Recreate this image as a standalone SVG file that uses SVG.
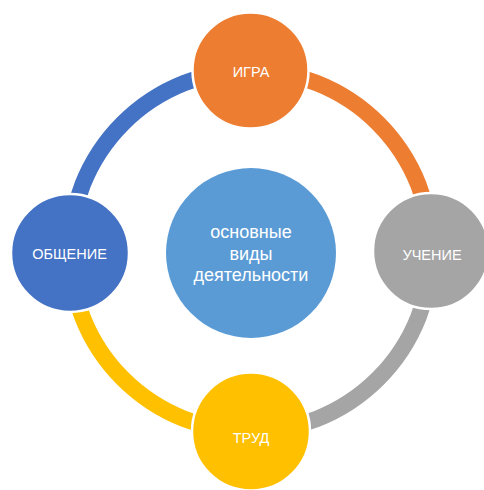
<svg xmlns="http://www.w3.org/2000/svg" width="484" height="490" viewBox="0 0 484 490">
<style>
.arc{fill:none;stroke-width:16.5;stroke-linecap:butt}
.node{stroke:#ffffff;stroke-width:2.5}
.lbl{font-family:"Liberation Sans",Arial,sans-serif;font-size:14.5px;fill:#ffffff;text-anchor:middle;dominant-baseline:central}
.ctr{font-family:"Liberation Sans",Arial,sans-serif;font-size:18px;fill:#ffffff;text-anchor:middle;dominant-baseline:central}
</style>
<rect width="484" height="490" fill="#ffffff"/>
<g id="connectors">
<path class="arc" stroke="#ED7D31" d="M 250.5 70.5 A 180.5 180.5 0 0 1 431 251"/>
<path class="arc" stroke="#A5A5A5" d="M 431 251 A 180.5 180.5 0 0 1 250.5 431.5"/>
<path class="arc" stroke="#FFC000" d="M 250.5 431.5 A 180.5 180.5 0 0 1 70 251"/>
<path class="arc" stroke="#4472C4" d="M 70 251 A 180.5 180.5 0 0 1 250.5 70.5"/>
</g>
<g id="center">
<circle cx="251" cy="253" r="85" fill="#5B9BD5"/>
<text class="ctr" x="251" y="232">основные</text>
<text class="ctr" x="251" y="253.5">виды</text>
<text class="ctr" x="251" y="275">деятельности</text>
</g>
<g id="igra">
<circle class="node" cx="250.5" cy="70.5" r="58" fill="#ED7D31"/>
<text class="lbl" x="251" y="72">ИГРА</text>
</g>
<g id="uchenie">
<circle class="node" cx="431" cy="251" r="58" fill="#A5A5A5"/>
<text class="lbl" x="432" y="255">УЧЕНИЕ</text>
</g>
<g id="trud">
<circle class="node" cx="251" cy="431.5" r="59" fill="#FFC000"/>
<text class="lbl" x="251" y="437.5">ТРУД</text>
</g>
<g id="obshchenie">
<circle class="node" cx="70" cy="253" r="59" fill="#4472C4"/>
<text class="lbl" x="69.5" y="254">ОБЩЕНИЕ</text>
</g>
</svg>
